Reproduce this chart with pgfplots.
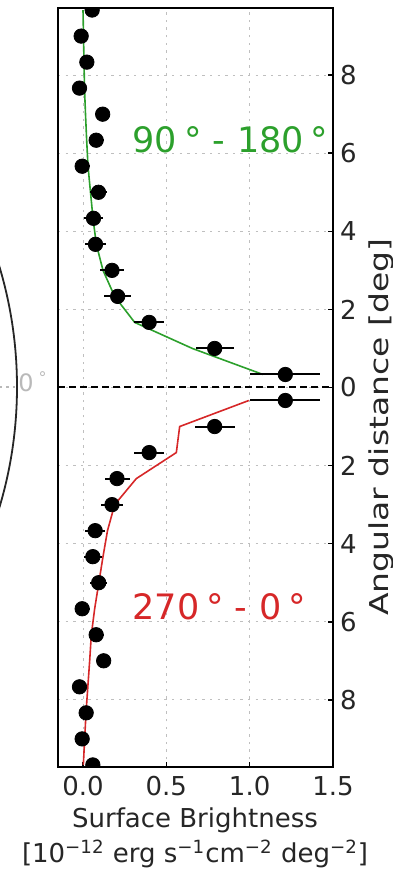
\documentclass[border=0pt]{standalone}
\usepackage{fontspec}
\setmainfont{DejaVu Sans}
\usepackage{graphicx}
\usepackage{pgfplots}
\pgfplotsset{compat=1.18}
\usepackage{pgfplotstable}

\definecolor{sbgreen}{HTML}{2CA02C}
\definecolor{sbred}{HTML}{D62728}

% Measured profiles: angular distance (deg, + for 90-180, - for 270-0),
% surface brightness and its error
\pgfplotstableread{
y      x       ex
0.333  1.214   0.21
1.000  0.790   0.115
1.667  0.397   0.09
2.333  0.208   0.08
3.000  0.174   0.07
3.667  0.075   0.065
4.333  0.063   0.055
5.000  0.093   0.05
5.667  -0.005  0.045
6.333  0.079   0.045
7.000  0.118   0.04
7.667  -0.021  0.04
8.333  0.023   0.04
9.000  -0.011  0.035
9.667  0.055   0.035
}\profA

\pgfplotstableread{
y       x       ex
-0.333  1.214   0.21
-1.000  0.790   0.12
-1.667  0.397   0.09
-2.333  0.204   0.075
-3.000  0.174   0.065
-3.667  0.073   0.06
-4.333  0.059   0.055
-5.000  0.094   0.05
-5.667  -0.005  0.045
-6.333  0.079   0.045
-7.000  0.124   0.04
-7.667  -0.021  0.04
-8.333  0.019   0.04
-9.000  -0.005  0.035
-9.667  0.059   0.035
}\profB

% Model curves
\pgfplotstableread{
y      x
0.333  1.080
1.000  0.656
1.667  0.310
2.333  0.190
3.000  0.120
3.667  0.080
4.333  0.060
5.000  0.045
5.667  0.030
6.333  0.022
7.000  0.015
7.667  0.009
8.333  0.006
9.000  0.003
9.667  0.000
}\modelA

\pgfplotstableread{
y       x
-0.333  0.995
-1.000  0.580
-1.667  0.560
-2.333  0.320
-3.000  0.190
-3.667  0.147
-4.333  0.120
-5.000  0.095
-5.667  0.070
-6.333  0.050
-7.000  0.040
-7.667  0.029
-8.333  0.018
-9.000  0.010
-9.667  0.002
}\modelB

\begin{document}
\begin{tikzpicture}
\useasboundingbox (0,0) rectangle (196pt,434.5pt);

% edge of the neighbouring sky map
\begin{scope}
  \clip (0,0) rectangle (28pt,434.5pt);
  \draw[line width=0.9pt, black!85] (-200.5pt,241pt) circle (209pt);
\end{scope}
\draw[gray!55, line width=0.6pt, dash pattern=on 1.2pt off 2pt] (0,241pt) -- (8pt,241pt);
\node[text=gray!55, font=\fontsize{12}{14}\selectfont, anchor=base west, inner sep=0]
  at (9pt,238.6pt) {0\hspace{2.5pt}\textsuperscript{°}};

\begin{axis}[
  at={(29pt,51pt)}, anchor=south west,
  scale only axis, width=137.5pt, height=379.5pt,
  xmin=-0.15, xmax=1.5, ymin=-9.72, ymax=9.72,
  axis line style={line width=1pt, black},
  tick align=inside, major tick length=2.5pt,
  tick style={line width=0.8pt, black},
  xtick pos=bottom, ytick pos=right, yticklabel pos=right,
  xtick={0,0.5,1,1.5}, xticklabels={0.0,0.5,1.0,1.5},
  ytick={-8,-6,-4,-2,0,2,4,6,8}, yticklabels={8,6,4,2,0,2,4,6,8},
  grid=major,
  grid style={gray!50, line width=0.5pt, dash pattern=on 1.2pt off 2.6pt},
  tick label style={font=\fontsize{13}{15}\selectfont, text=black!85},
  xticklabel style={yshift=-1pt},
  every axis x label/.style={at={(axis cs:0.672,-12.17)}, anchor=base, align=center,
    font=\fontsize{13}{17.5}\selectfont, text=black!85},
  every axis y label/.style={at={(axis cs:1.83,-1.02)}, anchor=base, rotate=90,
    font=\fontsize{13}{15}\selectfont, text=black!85},
  xlabel={Surface Brightness\\{[}10\textsuperscript{−12} erg s\textsuperscript{−1}cm\textsuperscript{−2} deg\textsuperscript{−2}]},
  ylabel={\scalebox{1.27}[1]{Angular distance [deg]}},
  clip marker paths=true,
]
\addplot[sbgreen, line width=0.8pt] table[x=x, y=y] {\modelA};
\addplot[sbred, line width=0.8pt] table[x=x, y=y] {\modelB};
\addplot[black, line width=1pt, dash pattern=on 3.5pt off 2pt] coordinates {(-0.15,0) (1.5,0)};

\addplot[black, only marks, mark=*, mark size=3.6pt, mark options={fill=black},
  error bars/.cd, x dir=both, x explicit, error mark=none,
  error bar style={line width=1pt, black}]
  table[x=x, y=y, x error=ex] {\profA};
\addplot[black, only marks, mark=*, mark size=3.6pt, mark options={fill=black},
  error bars/.cd, x dir=both, x explicit, error mark=none,
  error bar style={line width=1pt, black}]
  table[x=x, y=y, x error=ex] {\profB};

\node[text=sbgreen, font=\fontsize{17.5}{20}\selectfont, anchor=base west, inner sep=0]
  at (axis cs:0.296,6.03) {90\hspace{0.2em}°\hspace{0.3em}-\hspace{0.35em}180\hspace{0.2em}°};
\node[text=sbred, font=\fontsize{17.5}{20}\selectfont, anchor=base west, inner sep=0]
  at (axis cs:0.296,-5.95) {270\hspace{0.2em}°\hspace{0.3em}-\hspace{0.35em}0\hspace{0.2em}°};
\end{axis}
\end{tikzpicture}
\end{document}
